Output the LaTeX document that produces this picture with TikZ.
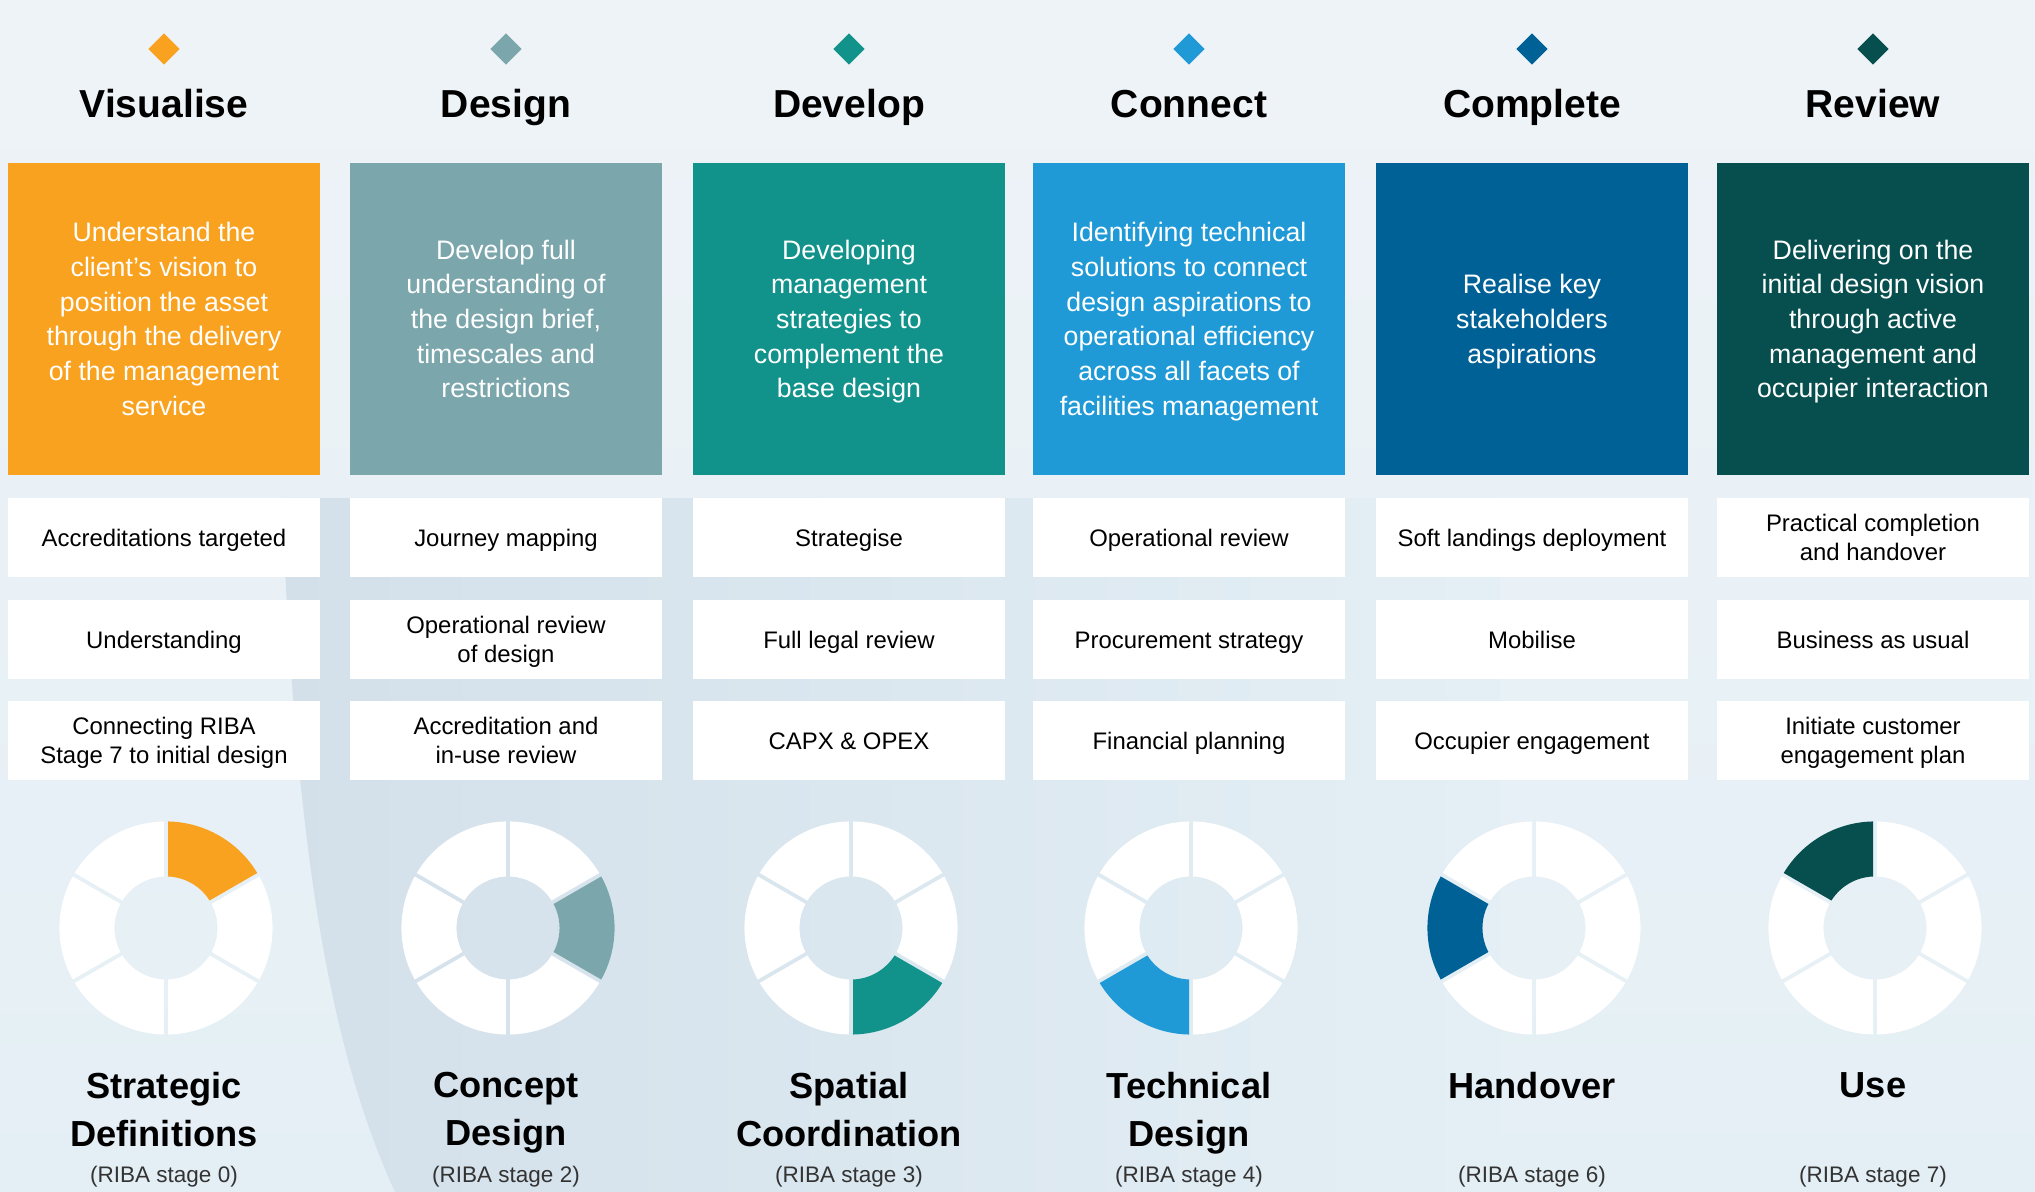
\documentclass[tikz,border=0pt]{standalone}
\usepackage{fontspec}
\setmainfont{Liberation Sans}
\usetikzlibrary{positioning,calc,shapes.geometric}

\definecolor{bgtop}{HTML}{EEF3F7}
\definecolor{bgbot}{HTML}{E4EFF5}
\definecolor{swoosh}{HTML}{D3E0EA}
\definecolor{cvisual}{HTML}{F9A21F}
\definecolor{cdesign}{HTML}{7BA6AC}
\definecolor{cdevelop}{HTML}{11938C}
\definecolor{cconnect}{HTML}{1F9AD7}
\definecolor{ccomplete}{HTML}{006196}
\definecolor{creview}{HTML}{074F4F}

\begin{document}
\begin{tikzpicture}[x=0.01cm, y=-0.01cm,
    tag/.style={shape=diamond, minimum size=0.32cm, inner sep=0pt},
    head/.style={anchor=base, font=\fontsize{11.1}{13}\selectfont\bfseries},
    bigbox/.style={minimum width=3.11cm, minimum height=3.12cm, inner sep=0pt, text=white, text width=3.05cm, align=flush center,
        font=\fontsize{7.6}{9.85}\selectfont,
        execute at begin node={\rule[-2.2pt]{0pt}{9.85pt}}, execute at end node={\rule[-2.2pt]{0pt}{9.85pt}}},
    item/.style={fill=white, minimum width=3.11cm, minimum height=0.79cm, inner sep=0pt, text width=3.05cm, align=flush center,
        font=\fontsize{6.8}{8.25}\selectfont,
        execute at begin node={\rule[-1.69pt]{0pt}{8.25pt}}, execute at end node={\rule[-1.69pt]{0pt}{8.25pt}}},
    title/.style={anchor=north, inner sep=0pt, align=center, font=\fontsize{10.3}{13.4}\selectfont\bfseries},
    riba/.style={anchor=base, text=black!80, font=\fontsize{6.4}{8}\selectfont}]
    \useasboundingbox (0,0) rectangle (2035,1192);
    \shade[top color=bgtop, bottom color=bgbot] (0,0) rectangle (2035,1192);
    \shade[left color=swoosh, right color=bgbot] (282,498) .. controls (295,850) and (330,1050) .. (395,1192) -- (1500,1192) -- (1500,498) -- cycle;

    \node[tag, fill=cvisual] (dVis) at (164,49) {};
    \node[tag, fill=cdesign] (dDes) at (506,49) {};
    \node[tag, fill=cdevelop] (dDev) at (849,49) {};
    \node[tag, fill=cconnect] (dCon) at (1189,49) {};
    \node[tag, fill=ccomplete] (dCom) at (1532,49) {};
    \node[tag, fill=creview] (dRev) at (1873,49) {};

    \node[head] (hVis) at (164,118) {Visualise};
    \node[head] (hDes) at (506,118) {Design};
    \node[head] (hDev) at (849,118) {Develop};
    \node[head] (hCon) at (1189,118) {Connect};
    \node[head] (hCom) at (1532,118) {Complete};
    \node[head] (hRev) at (1873,118) {Review};

    \node[bigbox, fill=cvisual] (bVis) at (164,319) {Understand the\\client’s vision to\\position the asset\\through the delivery\\of the management\\service};
    \node[bigbox, fill=cdesign] (bDes) at (506,319) {Develop full\\understanding of\\the design brief,\\timescales and\\restrictions};
    \node[bigbox, fill=cdevelop] (bDev) at (849,319) {Developing\\management\\strategies to\\complement the\\base design};
    \node[bigbox, fill=cconnect] (bCon) at (1189,319) {Identifying technical\\solutions to connect\\design aspirations to\\operational efficiency\\across all facets of\\facilities management};
    \node[bigbox, fill=ccomplete] (bCom) at (1532,319) {Realise key\\stakeholders\\aspirations};
    \node[bigbox, fill=creview] (bRev) at (1873,319) {Delivering on the\\initial design vision\\through active\\management and\\occupier interaction};

    \node[item] (iVisA) at (164,537.5) {Accreditations targeted};
    \node[item] (iVisB) at (164,639.5) {Understanding};
    \node[item] (iVisC) at (164,740.5) {Connecting RIBA\\Stage 7 to initial design};
    \node[item] (iDesA) at (506,537.5) {Journey mapping};
    \node[item] (iDesB) at (506,639.5) {Operational review\\of design};
    \node[item] (iDesC) at (506,740.5) {Accreditation and\\in-use review};
    \node[item] (iDevA) at (849,537.5) {Strategise};
    \node[item] (iDevB) at (849,639.5) {Full legal review};
    \node[item] (iDevC) at (849,740.5) {CAPX \& OPEX};
    \node[item] (iConA) at (1189,537.5) {Operational review};
    \node[item] (iConB) at (1189,639.5) {Procurement strategy};
    \node[item] (iConC) at (1189,740.5) {Financial planning};
    \node[item] (iComA) at (1532,537.5) {Soft landings deployment};
    \node[item] (iComB) at (1532,639.5) {Mobilise};
    \node[item] (iComC) at (1532,740.5) {Occupier engagement};
    \node[item] (iRevA) at (1873,537.5) {Practical completion\\and handover};
    \node[item] (iRevB) at (1873,639.5) {Business as usual};
    \node[item] (iRevC) at (1873,740.5) {Initiate customer\\engagement plan};

    \foreach \cx/\hl/\col in {166/0/cvisual, 508/1/cdesign, 851/2/cdevelop, 1191/3/cconnect, 1534/4/ccomplete, 1875/5/creview}{
        \coordinate (w) at (\cx,928);
        \foreach \k in {0,...,5}{
            \pgfmathsetmacro\a{30-60*\k}
            \ifnum\k=\hl \def\wc{\col}\else\def\wc{white}\fi
            \fill[\wc] ($(w)+(\a+1.08:1.065cm)$) arc[start angle=\a+1.08, end angle=\a+58.92, radius=1.065cm]
                -- ($(w)+(\a+57.77:0.515cm)$) arc[start angle=\a+57.77, end angle=\a+2.23, radius=0.515cm] -- cycle;
        }
    }

    \node[title] (tVis) at (164,1072) {Strategic\\Definitions};
    \node[title] (tDes) at (506,1072) {Concept\\Design};
    \node[title] (tDev) at (849,1072) {Spatial\\Coordination};
    \node[title] (tCon) at (1189,1072) {Technical\\Design};
    \node[title] (tCom) at (1532,1072) {Handover};
    \node[title] (tRev) at (1873,1072) {Use};

    \node[riba] (rVis) at (164,1183) {(RIBA stage 0)};
    \node[riba] (rDes) at (506,1183) {(RIBA stage 2)};
    \node[riba] (rDev) at (849,1183) {(RIBA stage 3)};
    \node[riba] (rCon) at (1189,1183) {(RIBA stage 4)};
    \node[riba] (rCom) at (1532,1183) {(RIBA stage 6)};
    \node[riba] (rRev) at (1873,1183) {(RIBA stage 7)};
\end{tikzpicture}
\end{document}
